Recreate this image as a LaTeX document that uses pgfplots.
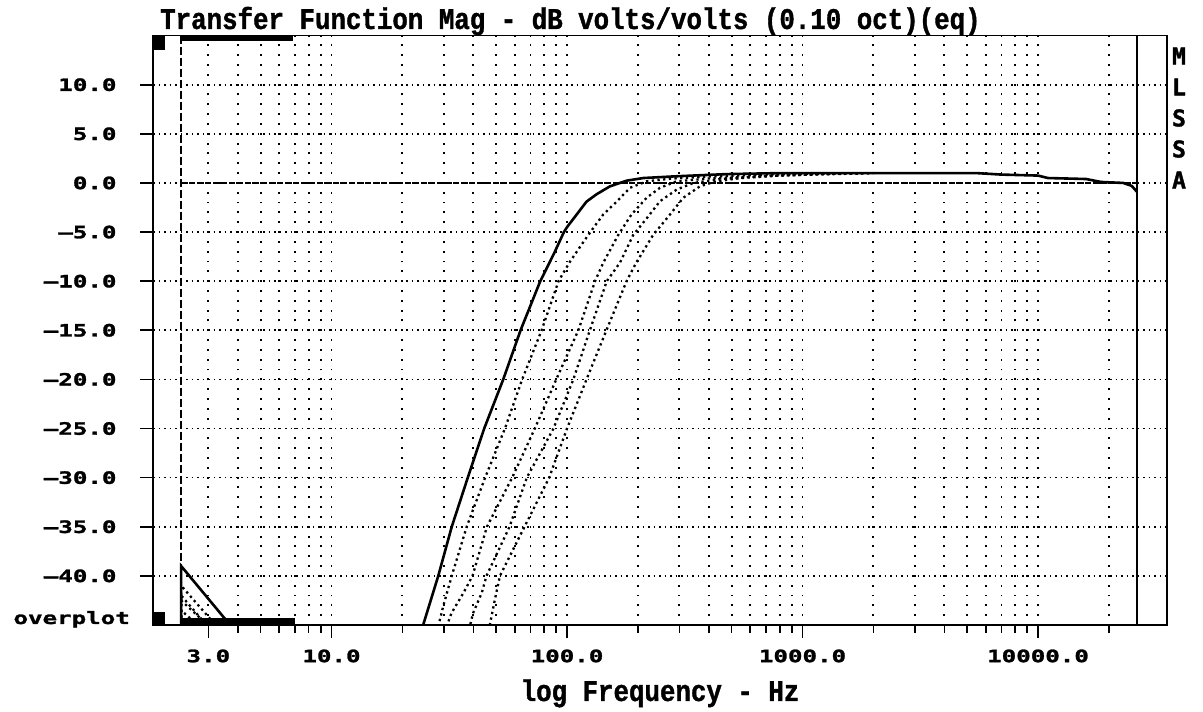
\documentclass[border=0pt]{standalone}
\usepackage{fontspec}
\usepackage{pgfplots}
\pgfplotsset{compat=1.18}
\newfontfamily\titlefont{Liberation Mono}[FakeStretch=0.86, BoldFeatures={FakeBold=1.2}]
\newfontfamily\tickfont{DejaVu Sans Mono}[FakeStretch=1.42, BoldFeatures={FakeBold=1.6}]
\newfontfamily\sidefont{DejaVu Sans Mono}[BoldFeatures={FakeBold=1.5}]
\begin{document}
\begin{tikzpicture}[x=1pt,y=1pt]
\path[use as bounding box] (0,0) rectangle (1203,712);
\begin{axis}[
  at={(153pt,87pt)}, anchor=south west,
  scale only axis, width=1014pt, height=589.4pt,
  xmode=log, xmin=1.746, xmax=35300, ymin=-45, ymax=15,
  axis line style={line width=1.8pt},
  tick align=outside, tick pos=left,
  major tick length=13pt, minor tick length=8pt,
  tick style={line width=1.6pt, black},
  xtick={3,10,100,1000,10000},
  xticklabels={3.0,10.0,100.0,1000.0,10000.0},
  minor xtick={4,5,6,7,8,9,20,30,40,50,60,70,80,90,200,300,400,500,600,700,800,900,2000,3000,4000,5000,6000,7000,8000,9000,20000},
  ytick={-40,-35,-30,-25,-20,-15,-10,-5,0,5,10},
  yticklabels={–40.0,–35.0,–30.0,–25.0,–20.0,–15.0,–10.0,–5.0,0.0,5.0,10.0},
  ticklabel style={font=\tickfont\bfseries\fontsize{17}{17}\selectfont},
  yticklabel style={xshift=-20pt},
  xticklabel style={yshift=-8pt},
  xmajorgrids, xminorgrids, ymajorgrids,
  major x grid style={line width=1.9pt, dash pattern=on 1.9pt off 7.925pt, dash phase=0.95pt, black},
  minor x grid style={line width=1.9pt, dash pattern=on 1.9pt off 7.925pt, dash phase=0.95pt, black},
  major y grid style={line width=1.7pt, dash pattern=on 1.7pt off 3.8pt, black},
]
% 0 dB reference
\addplot[line width=1.7pt, dash pattern=on 6pt off 2pt] coordinates {(2.3,0) (26300,0)};
% solid curve
\addplot[line width=2.6pt] coordinates {
(2.3,-46) (2.3,-39) (3.8,-45.3) (6,-52) (15,-55) (22,-48) (24.5,-45) (28.4,-40) (32.4,-35) (37.9,-30) (44.5,-25) (53.6,-20) (63.5,-15) (77,-10) (88,-7.2) (97,-5) (100,-4.5) (110,-3.2) (121,-1.9) (133.6,-1.15) (152,-0.35) (179,0.23) (211,0.5) (292,0.68) (477,0.9) (800,1.0) (5500,1.0) (7000,0.85) (10000,0.75) (11000,0.5) (16000,0.4) (18500,0.1) (23000,0.0) (25000,-0.3) (26300,-0.9)};
% dotted curves
\addplot[line width=2.3pt, dash pattern=on 2.3pt off 3.4pt] coordinates {
(2.3,-46) (2.3,-41) (3.5,-46) (10,-55) (27,-46.5) (28.5,-45) (29.8,-43.1) (32.4,-40) (37.5,-35) (44.9,-30) (54.5,-25) (64.5,-20) (78,-15) (92,-10) (103,-8) (119,-5.8) (131,-4.4) (142.7,-3.2) (162.5,-1.9) (185,-0.5) (218,0.17) (280,0.45) (400,0.65) (700,0.85) (1200,0.95) (1500,1.0)};
\addplot[line width=2.3pt, dash pattern=on 2.3pt off 3.4pt] coordinates {
(2.3,-46) (2.3,-42.5) (3.3,-46) (10,-55) (30,-46.5) (31,-45) (32.3,-43.8) (36.4,-41.7) (39.7,-40) (45.7,-35) (58.5,-30) (73,-25) (90,-20) (111.7,-15) (131.5,-10) (142.7,-8.1) (165,-5.3) (188,-3.2) (218,-1.5) (248,-0.5) (292,0.17) (400,0.45) (600,0.65) (1000,0.85) (1500,0.95)};
\addplot[line width=2.3pt, dash pattern=on 2.3pt off 3.4pt] coordinates {
(2.3,-46) (2.3,-43.5) (3.0,-46) (10,-55) (37.5,-46.5) (38.8,-45) (39.9,-43.8) (43.5,-41.7) (45.5,-40) (57,-35) (67.5,-30) (87.6,-25) (106.4,-20) (125,-15) (147.5,-10) (168,-8.1) (191,-5.3) (218,-3.6) (248,-1.87) (292,-0.68) (344,0) (450,0.4) (700,0.7) (1200,0.9) (1800,0.97)};
\addplot[line width=2.3pt, dash pattern=on 2.3pt off 3.4pt] coordinates {
(2.3,-46) (2.3,-42) (3.2,-46) (10,-55) (45,-46.5) (47,-45) (49.4,-42.4) (51.9,-40) (66,-35) (84,-30) (100,-25) (121,-20) (147,-15) (179,-10) (197,-8.1) (232,-5.3) (274,-3.2) (312,-1.5) (367,-0.34) (431,0.17) (550,0.5) (800,0.75) (1300,0.9) (2000,0.97)};
% cursors and markers
\draw[line width=1.8pt, dash pattern=on 8pt off 3pt] (axis cs:2.3,15) -- (axis cs:2.3,-39);
\draw[line width=2.2pt] (axis cs:26300,-45) -- (axis cs:26300,15);
\fill (axis cs:1.746,15) rectangle (axis cs:1.963,13.55);
\fill (axis cs:1.746,-45) rectangle (axis cs:1.963,-43.7);
\fill (axis cs:2.3,15) rectangle (axis cs:6.86,14.45);
\fill (axis cs:2.3,-45) rectangle (axis cs:7.0,-44.25);
\end{axis}
\node[anchor=base west, inner sep=0, font=\titlefont\bfseries\fontsize{30}{30}\selectfont] at (160,683) {Transfer Function Mag - dB volts/volts (0.10 oct)(eq)};
\node[anchor=base, inner sep=0, font=\titlefont\bfseries\fontsize{30}{30}\selectfont] at (660,11) {log Frequency - Hz};
\node[anchor=base east, inner sep=0, font=\tickfont\bfseries\fontsize{17}{17}\selectfont] at (130,88) {overplot};
\node[align=center, inner sep=0, font=\sidefont\bfseries\fontsize{23}{31}\selectfont] at (1179,594) {M\\L\\S\\S\\A};
\end{tikzpicture}
\end{document}
